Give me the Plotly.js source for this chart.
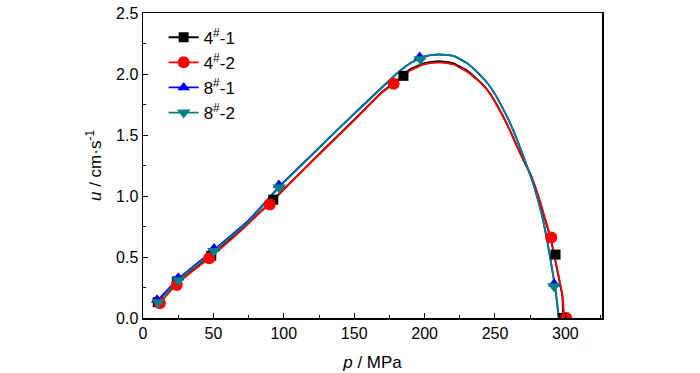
<!DOCTYPE html>
<html>
<head>
<meta charset="utf-8">
<script src="https://cdn.plot.ly/plotly-3.0.1.min.js"></script>
<style>html,body{margin:0;padding:0;background:#fff;}#chart{width:700px;height:373px;}</style>
</head>
<body>
<div id="chart"></div>
<script>
// Series names
const seriesNames = ["4<sup>#</sup>-1", "4<sup>#</sup>-2", "8<sup>#</sup>-1", "8<sup>#</sup>-2"];

// Smooth curve data
const curve41_x = [10.5, 24, 48.5, 70, 92.5, 110, 130, 150, 170, 180, 190, 200, 210, 220, 230, 240, 245, 250, 255, 260, 265, 270, 275, 280, 285, 290, 293, 296, 297.8, 298.5];
const curve41_y = [0.13, 0.29, 0.51, 0.73, 0.965, 1.17, 1.40, 1.625, 1.855, 1.945, 2.04, 2.09, 2.105, 2.09, 2.03, 1.93, 1.865, 1.775, 1.67, 1.555, 1.425, 1.30, 1.18, 1.02, 0.83, 0.625, 0.46, 0.29, 0.18, 0.0];

const curve42_x = [12, 24, 47, 70, 90, 110, 130, 150, 170, 180, 190, 200, 210, 220, 230, 240, 245, 250, 255, 260, 265, 270, 275, 280, 285, 290, 293, 296, 298, 299.2];
const curve42_y = [0.12, 0.28, 0.49, 0.72, 0.945, 1.17, 1.395, 1.62, 1.85, 1.935, 2.03, 2.08, 2.095, 2.08, 2.02, 1.925, 1.86, 1.77, 1.665, 1.55, 1.42, 1.30, 1.185, 1.03, 0.84, 0.637, 0.47, 0.30, 0.18, 0.0];

const curve81_x = [10, 25, 50.5, 75, 97, 120, 140, 160, 180, 190, 200, 210, 220, 230, 240, 245, 250, 255, 260, 265, 270, 276.4, 280, 284, 287, 290, 293, 295.2];
const curve81_y = [0.14, 0.32, 0.56, 0.80, 1.08, 1.34, 1.565, 1.785, 2.00, 2.09, 2.145, 2.16, 2.15, 2.09, 1.985, 1.92, 1.835, 1.73, 1.615, 1.48, 1.33, 1.127, 0.99, 0.81, 0.637, 0.44, 0.23, 0.0];

const curve82_x = [10.9, 25, 50.5, 75, 97, 120, 140, 160, 180, 190, 200, 210, 220, 230, 240, 245, 250, 255, 260, 265, 270, 276.4, 280, 284, 287, 290, 293, 295.4];
const curve82_y = [0.13, 0.31, 0.55, 0.79, 1.075, 1.335, 1.563, 1.78, 2.00, 2.09, 2.145, 2.16, 2.15, 2.09, 1.985, 1.92, 1.835, 1.73, 1.615, 1.48, 1.33, 1.127, 0.99, 0.81, 0.637, 0.44, 0.23, 0.0];

// Measured points (markers)
const pts41_x = [10.5, 24, 48.5, 92.5, 185, 293, 298.5];
const pts41_y = [0.13, 0.30, 0.51, 0.97, 1.985, 0.52, 0.0];
const pts42_x = [12, 24, 47, 90, 178, 290, 300.6];
const pts42_y = [0.12, 0.27, 0.49, 0.93, 1.92, 0.66, 0.0];
const pts81_x = [10, 25, 50.5, 96.5, 196.5, 292];
const pts81_y = [0.15, 0.33, 0.57, 1.09, 2.14, 0.28];
const pts82_x = [10.9, 25, 50.5, 96.7, 197, 292];
const pts82_y = [0.13, 0.31, 0.55, 1.07, 2.12, 0.26];

const colors = ["#000000", "#ff0000", "#0000ff", "#008080"];
const symbols = ["square", "circle", "triangle-up", "triangle-down"];
const msizes = [10, 12, 11, 12];

const curvesX = [curve41_x, curve42_x, curve81_x, curve82_x];
const curvesY = [curve41_y, curve42_y, curve81_y, curve82_y];
const ptsX = [pts41_x, pts42_x, pts81_x, pts82_x];
const ptsY = [pts41_y, pts42_y, pts81_y, pts82_y];

const traces = [];
for (let i = 0; i < 4; i++) {
  traces.push({x: curvesX[i], y: curvesY[i], mode: "lines", type: "scatter",
    line: {color: colors[i], width: 1.8, shape: "spline", smoothing: 0.4},
    showlegend: false, hoverinfo: "skip"});
}
for (let i = 0; i < 4; i++) {
  traces.push({x: ptsX[i], y: ptsY[i], mode: "markers", type: "scatter",
    marker: {color: colors[i], symbol: symbols[i], size: msizes[i]},
    showlegend: false});
}
for (let i = 0; i < 4; i++) {
  traces.push({x: [null], y: [null], mode: "lines+markers", type: "scatter",
    name: seriesNames[i],
    line: {color: colors[i], width: 1.8},
    marker: {color: colors[i], symbol: symbols[i], size: msizes[i]}});
}

const font = {family: "Liberation Sans, Arial, sans-serif", size: 16, color: "#000"};

const layout = {
  width: 700, height: 373,
  margin: {l: 143, r: 98, t: 13, b: 55},
  paper_bgcolor: "#fff", plot_bgcolor: "#fff",
  font: font,
  showlegend: true,
  legend: {x: 0.045, y: 0.978, xanchor: "left", yanchor: "top",
    bgcolor: "rgba(0,0,0,0)", font: {family: font.family, size: 17, color: "#000"},
    tracegroupgap: 0, itemwidth: 30},
  xaxis: {
    range: [0, 326], showgrid: false, zeroline: false,
    showline: true, linecolor: "#000", linewidth: 1.5, mirror: true,
    ticks: "inside", ticklen: 5, tickwidth: 1, tickcolor: "#000",
    tickvals: [0, 50, 100, 150, 200, 250, 300],
    ticktext: ["0", "50", "100", "150", "200", "250", "300"],
    minor: {ticks: "inside", ticklen: 3, tickwidth: 1, tickcolor: "#000", dtick: 25, tick0: 0, showgrid: false},
    tickfont: {family: font.family, size: 16, color: "#000"},
    title: {text: "<i>p</i> / MPa", font: {family: font.family, size: 17, color: "#000"}, standoff: 15}
  },
  yaxis: {
    range: [0, 2.5], showgrid: false, zeroline: false,
    showline: true, linecolor: "#000", linewidth: 1.5, mirror: true,
    ticks: "inside", ticklen: 5, tickwidth: 1, tickcolor: "#000",
    tickvals: [0, 0.5, 1.0, 1.5, 2.0, 2.5],
    ticktext: ["0.0", "0.5", "1.0", "1.5", "2.0", "2.5"],
    minor: {ticks: "inside", ticklen: 3, tickwidth: 1, tickcolor: "#000", dtick: 0.25, tick0: 0, showgrid: false},
    tickfont: {family: font.family, size: 16, color: "#000"},
    title: {text: "<i>u</i> / cm·s<sup>-1</sup>", font: {family: font.family, size: 17, color: "#000"}, standoff: 10}
  }
};

Plotly.newPlot("chart", traces, layout, {displayModeBar: false, staticPlot: true});
</script>
</body>
</html>
